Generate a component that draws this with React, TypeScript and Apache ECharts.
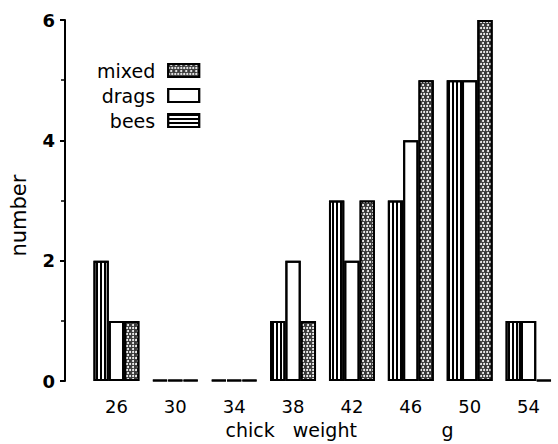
import React, { useEffect, useRef } from "react";
import * as echarts from "echarts";

const categories = ["26", "30", "34", "38", "42", "46", "50", "54"];
const bees = [2, 0, 0, 1, 3, 3, 5, 1];
const drags = [1, 0, 0, 2, 2, 4, 5, 1];
const mixed = [1, 0, 0, 1, 3, 5, 6, 0];
const legendOrder = ["mixed", "drags", "bees"];

const FONT = "DejaVu Sans";

const beesDecal = {
  symbol: "rect",
  symbolSize: 1,
  color: "#000",
  dashArrayX: [1.5, 2],
  dashArrayY: [20, 0],
  rotation: 0,
};
const beesLegendDecal = {
  symbol: "rect",
  symbolSize: 1,
  color: "#000",
  dashArrayX: [20, 0],
  dashArrayY: [1.5, 2],
  rotation: 0,
};
const mixedDecal = {
  symbol: "circle",
  symbolSize: 1,
  color: "#ffffff",
  dashArrayX: [[2, 1], [0, 1.5, 2, 1]],
  dashArrayY: [2, 0.6],
  rotation: 0,
};
const noDecal = {
  symbol: "rect",
  symbolSize: 0,
  color: "rgba(0,0,0,0)",
  dashArrayX: [1, 0],
  dashArrayY: [1, 0],
};

export default function App() {
  const ref = useRef<HTMLDivElement>(null);
  useEffect(() => {
    if (!ref.current) return;
    const chart = echarts.init(ref.current, undefined, { renderer: "svg" });
    const barBase = {
      type: "bar",
      barGap: "0%",
      barCategoryGap: "22%",
      barMinHeight: 1,
    };
    chart.setOption({
      animation: false,
      backgroundColor: "#fff",
      aria: { enabled: true, decal: { show: true } },
      textStyle: { fontFamily: FONT, color: "#000" },
      grid: { left: 85, top: 20, width: 483, height: 365 },
      legend: {
        orient: "vertical",
        align: "right",
        left: 92,
        top: 56,
        icon: "rect",
        itemWidth: 31,
        itemHeight: 13,
        itemGap: 6,
        textStyle: { fontFamily: FONT, fontSize: 19, color: "#000", padding: [0, 8, 0, 0] },
        data: [
          { name: "mixed" },
          { name: "drags", itemStyle: { decal: noDecal } },
          { name: "bees", itemStyle: { decal: beesLegendDecal } },
        ].filter((d) => legendOrder.includes(d.name)),
      },
      xAxis: {
        type: "category",
        data: categories,
        axisLine: { show: false },
        axisTick: { show: false },
        axisLabel: { margin: 16, fontSize: 18, color: "#000", fontFamily: FONT },
        name: "chick   weight              g",
        nameLocation: "middle",
        nameGap: 38,
        nameTextStyle: { fontSize: 19, color: "#000", fontFamily: FONT, padding: [0, 0, 0, 34] },
      },
      yAxis: {
        type: "value",
        min: 0,
        max: 6,
        interval: 2,
        offset: 22,
        axisLine: { show: true, lineStyle: { color: "#000", width: 2 } },
        axisTick: { show: true, length: 5, lineStyle: { color: "#000", width: 2 } },
        minorTick: { show: true, splitNumber: 2, length: 4, lineStyle: { color: "#000", width: 1.5 } },
        splitLine: { show: false },
        axisLabel: { margin: 10, fontSize: 18, color: "#000", fontFamily: FONT, fontWeight: "bold" },
        name: "number",
        nameLocation: "middle",
        nameGap: 36,
        nameRotate: 90,
        nameTextStyle: { fontSize: 21, color: "#000", fontFamily: FONT, padding: [0, 30, 0, 0] },
      },
      series: [
        {
          ...barBase,
          name: "bees",
          data: bees,
          itemStyle: { color: "#fff", borderColor: "#000", borderWidth: 2, decal: beesDecal },
        },
        {
          ...barBase,
          name: "drags",
          data: drags,
          itemStyle: { color: "#fff", borderColor: "#000", borderWidth: 2, decal: noDecal },
        },
        {
          ...barBase,
          name: "mixed",
          data: mixed,
          itemStyle: { color: "#3a3a3a", borderColor: "#000", borderWidth: 2, decal: mixedDecal },
        },
      ],
    });
    return () => chart.dispose();
  }, []);
  return (
    <div
      ref={ref}
      style={{ position: "fixed", left: 0, top: 0, width: 558, height: 444, background: "#fff" }}
    />
  );
}
